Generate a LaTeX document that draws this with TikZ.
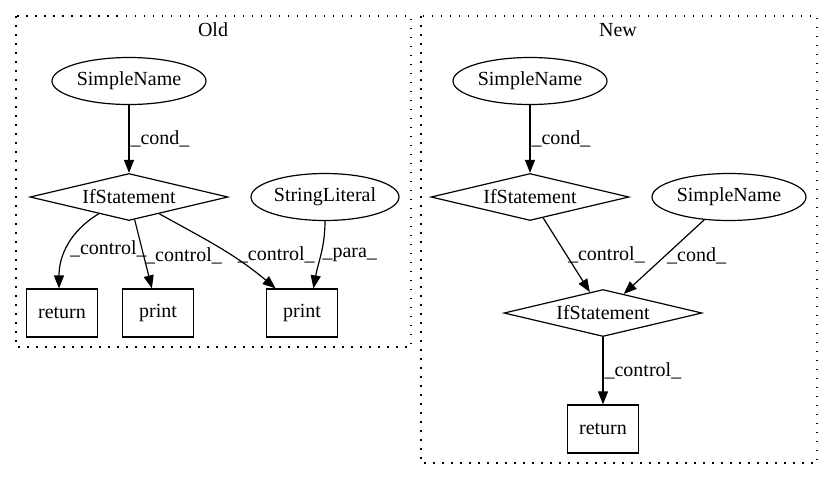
\documentclass[tikz,border=0pt]{standalone}
\usepackage{fontspec}
\setmainfont{Liberation Serif}
\usetikzlibrary{shapes.geometric,arrows.meta}

\begin{document}
\begin{tikzpicture}[x=1pt , y=-1pt , line width=1.2pt ,
  every node/.style={font=\fontsize{20}{22}\selectfont} ,
  sname/.style={draw , ellipse , minimum width=154pt , minimum height=47pt , inner sep=0pt} ,
  ifst/.style={draw , diamond , aspect=4.2 , minimum width=198pt , minimum height=47pt , inner sep=0pt} ,
  stmt/.style={draw , rectangle , minimum width=71pt , minimum height=48pt} ,
  cluster/.style={dash pattern=on 1.5pt off 7.5pt} ,
  lbl/.style={anchor=west , inner sep=1pt} ,
  edge/.style={-{Triangle[length=13pt , width=10pt]}}]
  \useasboundingbox (0 , 0) rectangle (833 , 480);
  \draw[cluster] (16 , 16) rectangle (411 , 347);
  \node (oldt) at (213 , 30) {Old};
  \node[sname] (osn) at (129 , 81) {SimpleName};
  \node[ifst] (oif) at (129 , 197) {IfStatement};
  \node[sname , minimum width=148pt] (ostr) at (325 , 197) {StringLiteral};
  \node[stmt] (oret) at (62 , 313) {return};
  \node[stmt] (opr1) at (158 , 313) {print};
  \node[stmt] (opr2) at (302 , 313) {print};
  \draw[edge] (osn) -- node[lbl] {\_cond\_} (oif);
  \draw[edge] (oif.-151) to[out=-149 , in=90] node[lbl , pos=.55 , xshift=2pt] {\_control\_} (oret.97);
  \draw[edge] (oif) -- node[lbl , pos=.52] {\_control\_} (opr1);
  \draw[edge] (oif.-29) to[out=-29 , in=140] node[lbl , pos=.6 , xshift=6pt] {\_control\_} (opr2.137);
  \draw[edge] (ostr) to[out=-90 , in=80] node[lbl , pos=.5] {\_para\_} (opr2.65);
  \draw[cluster] (421 , 16) rectangle (817 , 463);
  \node (newt) at (618 , 30) {New};
  \node[sname] (nsn) at (530 , 81) {SimpleName};
  \node[ifst] (nif1) at (530 , 197) {IfStatement};
  \node[sname] (nsn2) at (729 , 197) {SimpleName};
  \node[ifst] (nif2) at (603 , 313) {IfStatement};
  \node[stmt] (nret) at (603 , 429) {return};
  \draw[edge] (nsn) -- node[lbl] {\_cond\_} (nif1);
  \draw[edge] (nif1) -- node[lbl , pos=.5] {\_control\_} (nif2);
  \draw[edge] (nsn2) -- node[lbl , pos=.48] {\_cond\_} (nif2);
  \draw[edge] (nif2) -- node[lbl] {\_control\_} (nret);
\end{tikzpicture}
\end{document}
